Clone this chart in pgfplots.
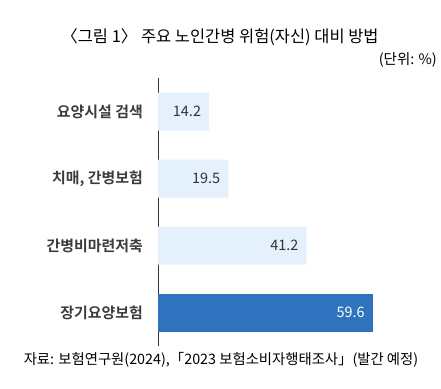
\documentclass[border=0pt]{standalone}
\usepackage{fontspec}
\setmainfont{Noto Sans CJK KR}
\newfontfamily\labfont{Noto Sans CJK KR Bold}
\usepackage{pgfplots}
\pgfplotsset{compat=1.18}
\definecolor{lightbar}{HTML}{E4F0FC}
\definecolor{darkbar}{HTML}{2F72BD}
\definecolor{txt}{HTML}{333333}
\definecolor{labtxt}{HTML}{3C3C3C}
\begin{document}
\begin{tikzpicture}[x=1bp,y=1bp]
\path[use as bounding box] (0,0) rectangle (441,388);
\begin{axis}[at={(158bp,42bp)}, anchor=south west, scale only axis,
  width=220bp, height=268bp, xmin=0, xmax=61, ymin=-0.5, ymax=3.5,
  clip=false,
  axis x line=none, axis y line*=left,
  axis line style={-, draw=black!80, line width=0.9pt},
  xbar, bar width=38bp, bar shift=0pt,
  ytick={0,1,2,3},
  yticklabels={장기요양보험,간병비마련저축,{치매, 간병보험},요양시설 검색},
  major tick length=0pt, ytick style={draw=none},
  yticklabel style={font=\labfont\fontsize{15}{18}\selectfont, text=labtxt, inner sep=0pt, xshift=-15bp},
  /pgf/number format/assume math mode=true,
  point meta=x,
  nodes near coords={\pgfmathprintnumber[fixed,fixed zerofill,precision=1,assume math mode=true]{\pgfplotspointmeta}},
]
\addplot[fill=lightbar, draw=none,
  every node near coord/.append style={anchor=east, inner sep=0pt, xshift=-8bp, text=txt, font=\fontsize{14.5}{17}\selectfont}]
  coordinates {(14.2,3) (19.5,2) (41.2,1)};
\addplot[fill=darkbar, draw=none,
  every node near coord/.append style={anchor=east, inner sep=0pt, xshift=-8bp, text=white, font=\fontsize{14.5}{17}\selectfont}]
  coordinates {(59.6,0)};
\end{axis}
\node[font=\fontsize{16.5}{19}\selectfont, text=black] at (220,351) {〈그림 1〉 주요 노인간병 위험(자신) 대비 방법};
\node[anchor=east, inner sep=0pt, font=\fontsize{14.5}{17}\selectfont, text=black] at (437,328) {(단위: \%)};
\node[font=\fontsize{14.4}{17}\selectfont, text=black] at (221,28) {자료: 보험연구원(2024),「2023 보험소비자행태조사」(발간 예정)};
\end{tikzpicture}
\end{document}
